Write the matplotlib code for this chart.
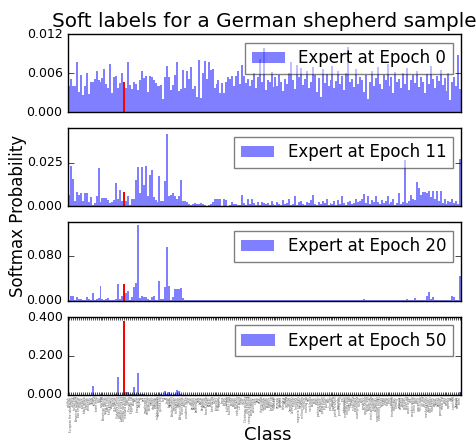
import numpy as np
import matplotlib
matplotlib.use("Agg")
import matplotlib.pyplot as plt
from matplotlib.ticker import FormatStrFormatter

# Tiny ImageNet classes (wnid order)
classes = [
    "goldfish", "European fire salamander", "bullfrog", "tailed frog", "American alligator",
    "boa constrictor", "trilobite", "scorpion", "black widow", "tarantula",
    "centipede", "goose", "koala", "jellyfish", "brain coral",
    "snail", "slug", "sea slug", "American lobster", "spiny lobster",
    "black stork", "king penguin", "albatross", "dugong", "Chihuahua",
    "Yorkshire terrier", "golden retriever", "Labrador retriever", "German shepherd", "standard poodle",
    "tabby", "Persian cat", "Egyptian cat", "cougar", "lion",
    "brown bear", "ladybug", "fly", "bee", "grasshopper",
    "walking stick", "cockroach", "mantis", "dragonfly", "monarch",
    "sulphur butterfly", "sea cucumber", "guinea pig", "hog", "ox",
    "bison", "bighorn", "gazelle", "Arabian camel", "orangutan",
    "chimpanzee", "baboon", "African elephant", "lesser panda", "abacus",
    "academic gown", "altar", "apron", "backpack", "bannister",
    "barbershop", "barn", "barrel", "basketball", "bathtub",
    "beach wagon", "beacon", "beaker", "beer bottle", "bikini",
    "binoculars", "birdhouse", "bow tie", "brass", "broom",
    "bucket", "bullet train", "butcher shop", "candle", "cannon",
    "cardigan", "cash machine", "CD player", "chain", "chest",
    "Christmas stocking", "cliff dwelling", "computer keyboard", "confectionery", "convertible",
    "crane", "dam", "desk", "dining table", "drumstick",
    "dumbbell", "flagpole", "fountain", "freight car", "frying pan",
    "fur coat", "gasmask", "go-kart", "gondola", "hourglass",
    "iPod", "jinrikisha", "kimono", "lampshade", "lawn mower",
    "lifeboat", "limousine", "magnetic compass", "maypole", "military uniform",
    "miniskirt", "moving van", "nail", "neck brace", "obelisk",
    "oboe", "organ", "parking meter", "pay-phone", "picket fence",
    "pill bottle", "plunger", "pole", "police van", "poncho",
    "pop bottle", "potter's wheel", "projectile", "punching bag", "reel",
    "refrigerator", "remote control", "rocking chair", "rugby ball", "sandal",
    "school bus", "scoreboard", "sewing machine", "snorkel", "sock",
    "sombrero", "space heater", "spider web", "sports car", "steel arch bridge",
    "stopwatch", "sunglasses", "suspension bridge", "swimming trunks", "syringe",
    "teapot", "teddy", "thatch", "torch", "tractor",
    "triumphal arch", "trolleybus", "turnstile", "umbrella", "vestment",
    "viaduct", "volleyball", "water jug", "water tower", "wok",
    "wooden spoon", "comic book", "plate", "guacamole", "ice cream",
    "ice lolly", "pretzel", "mashed potato", "cauliflower", "bell pepper",
    "mushroom", "orange", "lemon", "banana", "pomegranate",
    "meat loaf", "pizza", "potpie", "espresso", "alp",
    "cliff", "coral reef", "lakeside", "seashore", "acorn",
]
true_class = 28

epochs = [0, 11, 20, 50]

probs_ep0 = [
    0.0041, 0.0051, 0.0041, 0.0040, 0.0077, 0.0031, 0.0058, 0.0026, 0.0041, 0.0061,
    0.0028, 0.0047, 0.0046, 0.0052, 0.0064, 0.0049, 0.0047, 0.0053, 0.0066, 0.0044,
    0.0038, 0.0075, 0.0029, 0.0055, 0.0056, 0.0038, 0.0045, 0.0060, 0.0047, 0.0037,
    0.0077, 0.0042, 0.0036, 0.0046, 0.0043, 0.0035, 0.0049, 0.0063, 0.0053, 0.0056,
    0.0032, 0.0056, 0.0055, 0.0050, 0.0045, 0.0040, 0.0040, 0.0042, 0.0021, 0.0055,
    0.0072, 0.0054, 0.0034, 0.0042, 0.0058, 0.0078, 0.0033, 0.0036, 0.0065, 0.0037,
    0.0064, 0.0051, 0.0069, 0.0036, 0.0040, 0.0023, 0.0081, 0.0022, 0.0061, 0.0079,
    0.0051, 0.0077, 0.0065, 0.0066, 0.0037, 0.0043, 0.0050, 0.0030, 0.0045, 0.0030,
    0.0047, 0.0055, 0.0052, 0.0056, 0.0040, 0.0056, 0.0063, 0.0043, 0.0073, 0.0056,
    0.0045, 0.0052, 0.0040, 0.0049, 0.0061, 0.0038, 0.0055, 0.0082, 0.0047, 0.0099,
    0.0035, 0.0050, 0.0046, 0.0062, 0.0039, 0.0054, 0.0041, 0.0058, 0.0047, 0.0033,
    0.0052, 0.0044, 0.0060, 0.0078, 0.0049, 0.0036, 0.0073, 0.0055, 0.0068, 0.0042,
    0.0051, 0.0064, 0.0038, 0.0047, 0.0069, 0.0057, 0.0031, 0.0053, 0.0024, 0.0066,
    0.0045, 0.0059, 0.0041, 0.0050, 0.0072, 0.0037, 0.0048, 0.0063, 0.0044, 0.0056,
    0.0035, 0.0061, 0.0100, 0.0046, 0.0052, 0.0039, 0.0067, 0.0043, 0.0055, 0.0049,
    0.0032, 0.0058, 0.0021, 0.0047, 0.0064, 0.0040, 0.0053, 0.0070, 0.0044, 0.0036,
    0.0057, 0.0049, 0.0074, 0.0041, 0.0055, 0.0030, 0.0062, 0.0046, 0.0052, 0.0038,
    0.0060, 0.0043, 0.0068, 0.0034, 0.0050, 0.0057, 0.0045, 0.0063, 0.0039, 0.0054,
    0.0047, 0.0029, 0.0059, 0.0044, 0.0072, 0.0051, 0.0037, 0.0056, 0.0048, 0.0065,
    0.0042, 0.0053, 0.0033, 0.0060, 0.0019, 0.0046, 0.0055, 0.0040, 0.0088, 0.0036,
]

probs_ep11 = [
    0.0068, 0.0232, 0.0159, 0.0034, 0.0083, 0.0068, 0.0078, 0.0030, 0.0078, 0.0074,
    0.0026, 0.0053, 0.0011, 0.0019, 0.0062, 0.0221, 0.0023, 0.0051, 0.0051, 0.0051,
    0.0038, 0.0019, 0.0026, 0.0038, 0.0136, 0.0045, 0.0096, 0.0032, 0.0085, 0.0032,
    0.0062, 0.0011, 0.0045, 0.0045, 0.0153, 0.0227, 0.0074, 0.0227, 0.0125, 0.0232,
    0.0059, 0.0181, 0.0210, 0.0053, 0.0038, 0.0028, 0.0176, 0.0034, 0.0030, 0.0147,
    0.0414, 0.0062, 0.0068, 0.0078, 0.0059, 0.0045, 0.0062, 0.0153, 0.0030, 0.0030,
    0.0023, 0.0015, 0.0009, 0.0015, 0.0021, 0.0017, 0.0013, 0.0021, 0.0015, 0.0006,
    0.0002, 0.0011, 0.0015, 0.0025, 0.0040, 0.0045, 0.0042, 0.0042, 0.0004, 0.0040,
    0.0036, 0.0004, 0.0008, 0.0025, 0.0017, 0.0015, 0.0006, 0.0008, 0.0064, 0.0019,
    0.0011, 0.0040, 0.0015, 0.0040, 0.0019, 0.0011, 0.0023, 0.0011, 0.0025, 0.0019,
    0.0015, 0.0021, 0.0008, 0.0030, 0.0012, 0.0006, 0.0025, 0.0017, 0.0010, 0.0035,
    0.0013, 0.0020, 0.0042, 0.0009, 0.0016, 0.0059, 0.0011, 0.0024, 0.0032, 0.0014,
    0.0007, 0.0028, 0.0019, 0.0038, 0.0064, 0.0012, 0.0009, 0.0026, 0.0015, 0.0033,
    0.0018, 0.0045, 0.0010, 0.0022, 0.0016, 0.0029, 0.0008, 0.0037, 0.0013, 0.0059,
    0.0020, 0.0011, 0.0027, 0.0034, 0.0014, 0.0018, 0.0044, 0.0025, 0.0030, 0.0040,
    0.0072, 0.0021, 0.0058, 0.0017, 0.0035, 0.0024, 0.0062, 0.0028, 0.0015, 0.0039,
    0.0020, 0.0032, 0.0058, 0.0012, 0.0026, 0.0041, 0.0009, 0.0019, 0.0079, 0.0014,
    0.0023, 0.0267, 0.0018, 0.0030, 0.0064, 0.0045, 0.0036, 0.0138, 0.0106, 0.0065,
    0.0080, 0.0082, 0.0074, 0.0088, 0.0052, 0.0090, 0.0042, 0.0090, 0.0031, 0.0088,
    0.0020, 0.0045, 0.0014, 0.0033, 0.0025, 0.0040, 0.0022, 0.0030, 0.0016, 0.0270,
]

probs_ep20 = [
    0.0018, 0.0090, 0.0090, 0.0018, 0.0070, 0.0024, 0.0024, 0.0006, 0.0006, 0.0070,
    0.0024, 0.0006, 0.0144, 0.0006, 0.0036, 0.0054, 0.0270, 0.0024, 0.0006, 0.0024,
    0.0054, 0.0012, 0.0006, 0.0012, 0.0036, 0.0295, 0.0036, 0.0090, 0.0295, 0.0130,
    0.0180, 0.0018, 0.0070, 0.0250, 0.0310, 0.1360, 0.0048, 0.0090, 0.0060, 0.0070,
    0.0036, 0.0018, 0.0070, 0.0090, 0.0006, 0.0006, 0.0360, 0.0036, 0.0036, 0.0235,
    0.0957, 0.0270, 0.0018, 0.0070, 0.0200, 0.0200, 0.0200, 0.0217, 0.0054, 0.0005,
    0.0004, 0.0006, 0.0003, 0.0005, 0.0004, 0.0006, 0.0003, 0.0004, 0.0005, 0.0003,
    0.0004, 0.0005, 0.0003, 0.0004, 0.0005, 0.0018, 0.0016, 0.0005, 0.0012, 0.0004,
    0.0003, 0.0005, 0.0004, 0.0006, 0.0003, 0.0015, 0.0004, 0.0005, 0.0014, 0.0003,
    0.0004, 0.0005, 0.0013, 0.0004, 0.0003, 0.0005, 0.0004, 0.0006, 0.0003, 0.0004,
    0.0005, 0.0014, 0.0004, 0.0003, 0.0005, 0.0004, 0.0006, 0.0003, 0.0004, 0.0005,
    0.0003, 0.0004, 0.0005, 0.0003, 0.0004, 0.0005, 0.0004, 0.0006, 0.0003, 0.0004,
    0.0005, 0.0003, 0.0004, 0.0005, 0.0004, 0.0003, 0.0012, 0.0004, 0.0005, 0.0003,
    0.0004, 0.0005, 0.0003, 0.0004, 0.0005, 0.0003, 0.0004, 0.0014, 0.0005, 0.0003,
    0.0004, 0.0005, 0.0003, 0.0004, 0.0005, 0.0003, 0.0004, 0.0005, 0.0003, 0.0012,
    0.0020, 0.0016, 0.0005, 0.0013, 0.0004, 0.0003, 0.0012, 0.0004, 0.0005, 0.0015,
    0.0004, 0.0005, 0.0003, 0.0014, 0.0004, 0.0005, 0.0003, 0.0004, 0.0005, 0.0003,
    0.0004, 0.0005, 0.0020, 0.0004, 0.0003, 0.0005, 0.0040, 0.0004, 0.0005, 0.0012,
    0.0003, 0.0005, 0.0078, 0.0157, 0.0025, 0.0060, 0.0004, 0.0005, 0.0012, 0.0005,
    0.0004, 0.0012, 0.0005, 0.0004, 0.0003, 0.0090, 0.0060, 0.0005, 0.0004, 0.0440,
]

probs_ep50 = [
    0.0008, 0.0010, 0.0006, 0.0009, 0.0007, 0.0011, 0.0006, 0.0008, 0.0010, 0.0007,
    0.0009, 0.0008, 0.0450, 0.0010, 0.0007, 0.0009, 0.0012, 0.0008, 0.0006, 0.0010,
    0.0011, 0.0008, 0.0009, 0.0007, 0.0012, 0.0930, 0.0010, 0.0008, 0.3810, 0.0155,
    0.0155, 0.0030, 0.0020, 0.0410, 0.0025, 0.1140, 0.0040, 0.0060, 0.0020, 0.0010,
    0.0009, 0.0008, 0.0010, 0.0007, 0.0012, 0.0009, 0.0008, 0.0030, 0.0010, 0.0190,
    0.0020, 0.0155, 0.0012, 0.0010, 0.0030, 0.0240, 0.0190, 0.0020, 0.0010, 0.0008,
    0.0007, 0.0009, 0.0008, 0.0006, 0.0007, 0.0008, 0.0006, 0.0007, 0.0009, 0.0006,
    0.0008, 0.0007, 0.0006, 0.0008, 0.0007, 0.0009, 0.0006, 0.0007, 0.0008, 0.0006,
    0.0007, 0.0008, 0.0006, 0.0009, 0.0007, 0.0008, 0.0006, 0.0007, 0.0008, 0.0006,
    0.0007, 0.0009, 0.0006, 0.0008, 0.0007, 0.0006, 0.0008, 0.0007, 0.0009, 0.0006,
    0.0007, 0.0008, 0.0006, 0.0007, 0.0009, 0.0006, 0.0008, 0.0007, 0.0006, 0.0008,
    0.0007, 0.0009, 0.0006, 0.0007, 0.0008, 0.0006, 0.0007, 0.0008, 0.0006, 0.0009,
    0.0007, 0.0008, 0.0006, 0.0007, 0.0008, 0.0006, 0.0007, 0.0009, 0.0006, 0.0008,
    0.0007, 0.0006, 0.0008, 0.0007, 0.0009, 0.0006, 0.0007, 0.0008, 0.0006, 0.0007,
    0.0008, 0.0006, 0.0009, 0.0007, 0.0008, 0.0006, 0.0007, 0.0008, 0.0006, 0.0007,
    0.0009, 0.0006, 0.0008, 0.0007, 0.0006, 0.0008, 0.0007, 0.0009, 0.0006, 0.0007,
    0.0008, 0.0006, 0.0007, 0.0008, 0.0006, 0.0009, 0.0007, 0.0008, 0.0006, 0.0007,
    0.0008, 0.0006, 0.0007, 0.0009, 0.0006, 0.0008, 0.0007, 0.0006, 0.0008, 0.0007,
    0.0009, 0.0006, 0.0007, 0.0008, 0.0006, 0.0007, 0.0008, 0.0006, 0.0009, 0.0007,
    0.0008, 0.0006, 0.0007, 0.0008, 0.0006, 0.0007, 0.0009, 0.0006, 0.0008, 0.0150,
]

all_probs = [probs_ep0, probs_ep11, probs_ep20, probs_ep50]
y_tops = [0.012, 0.0445, 0.140, 0.403]
y_ticks = [[0.0, 0.006, 0.012], [0.0, 0.025], [0.0, 0.080], [0.0, 0.2, 0.4]]


def main():
    plt.style.use("classic")
    fig, axes = plt.subplots(4, 1, figsize=(4.76, 4.45))
    fig.patch.set_facecolor("white")
    fig.subplots_adjust(left=0.143, right=0.969, top=0.923, bottom=0.113, hspace=0.205)

    x = np.arange(len(classes))
    for ax, ep, probs, top, ticks in zip(axes, epochs, all_probs, y_tops, y_ticks):
        probs = np.array(probs)
        ax.bar(x, probs, width=1.0, color="b", alpha=0.5, linewidth=0,
               label="Expert at Epoch %d" % ep)
        ax.bar([true_class], [probs[true_class]], width=1.0, color="r", linewidth=0)
        ax.set_xlim(-0.5, len(classes) - 0.5)
        ax.set_ylim(0, top)
        ax.set_yticks(ticks)
        ax.yaxis.set_major_formatter(FormatStrFormatter("%.3f"))
        ax.tick_params(axis="y", labelsize=9)
        leg = ax.legend(loc="upper right", fontsize=12, framealpha=0.5, fancybox=False)
        if ax is not axes[-1]:
            ax.set_xticks([])

    axes[0].set_title("Soft labels for a German shepherd sample", fontsize=14.4)

    bottom = axes[-1]
    bottom.set_xticks(x)
    bottom.set_xticklabels(classes, rotation=90, fontsize=2, color="0.35")
    bottom.tick_params(axis="x", length=2.5, pad=1)

    fig.text(0.038, 0.515, "Softmax Probability", rotation=90, fontsize=12,
             ha="center", va="center")
    fig.text(0.562, 0.022, "Class", fontsize=13, ha="center", va="center")

    fig.savefig("out.png", dpi=100, facecolor="white")


if __name__ == "__main__":
    main()
